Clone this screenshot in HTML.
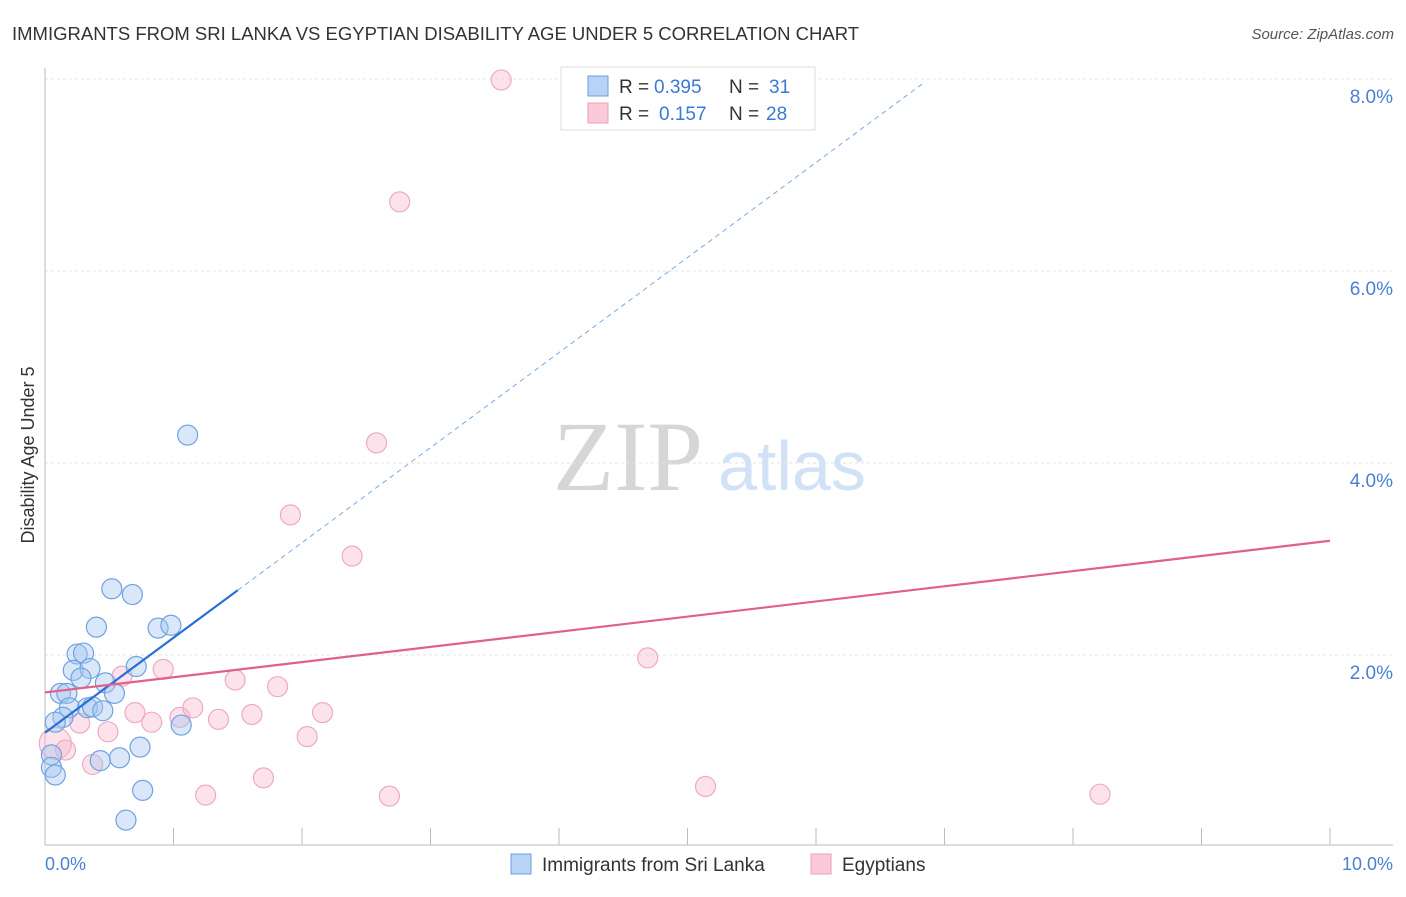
<!DOCTYPE html>
<html><head><meta charset="utf-8"><style>
body{margin:0;background:#fff;font-family:"Liberation Sans",sans-serif}
</style></head><body>
<svg width="1406" height="892" xmlns="http://www.w3.org/2000/svg" font-family="Liberation Sans, sans-serif">
<text x="12" y="40" font-size="18.5" fill="#333">IMMIGRANTS FROM SRI LANKA VS EGYPTIAN DISABILITY AGE UNDER 5 CORRELATION CHART</text>
<text x="1394" y="39" font-size="15" fill="#555" font-style="italic" text-anchor="end">Source: ZipAtlas.com</text>
<text x="553" y="490" font-size="100" fill="#d6d6d6" style="font-family:'Liberation Serif',serif">ZIP</text>
<text x="718" y="490" font-size="70" fill="#d2e2f6">atlas</text>
<g id="grid"></g>
<g id="axes"></g>
<g id="marks"></g>
<text transform="translate(34,455) rotate(-90)" font-size="18" fill="#333" text-anchor="middle">Disability Age Under 5</text>
<text x="45" y="870" font-size="18" fill="#4a7fd6">0.0%</text>
<text x="1393" y="870" font-size="18" fill="#4a7fd6" text-anchor="end">10.0%</text>
<g>
<rect x="561" y="67" width="254" height="63" fill="#fff" stroke="#ddd"/>
<rect x="588" y="76" width="20" height="20" fill="#b8d3f5" stroke="#6a9fe0"/>
<text x="619" y="93" font-size="19" fill="#333">R =</text>
<text x="654" y="93" font-size="19" fill="#3b78d8">0.395</text>
<text x="729" y="93" font-size="19" fill="#333">N =</text>
<text x="769" y="93" font-size="19" fill="#3b78d8">31</text>
<rect x="588" y="103" width="20" height="20" fill="#fbc9d8" stroke="#eba0b8"/>
<text x="619" y="120" font-size="19" fill="#333">R =</text>
<text x="659" y="120" font-size="19" fill="#3b78d8">0.157</text>
<text x="729" y="120" font-size="19" fill="#333">N =</text>
<text x="766" y="120" font-size="19" fill="#3b78d8">28</text>
</g>
<g>
<rect x="511" y="854" width="20" height="20" fill="#b8d3f5" stroke="#6a9fe0"/>
<text x="542" y="871" font-size="19" fill="#333">Immigrants from Sri Lanka</text>
<rect x="811" y="854" width="20" height="20" fill="#fbc9d8" stroke="#eba0b8"/>
<text x="842" y="871" font-size="19" fill="#333">Egyptians</text>
</g>
</svg>
<script>
const yTicks=[2,4,6,8];
const yTickLabels=["2.0%","4.0%","6.0%","8.0%"];
const xTicks=[0,1,2,3,4,5,6,7,8,9,10];
const blueX=[0.52,0.68,0.40,0.88,0.98,0.25,0.30,0.22,0.35,0.28,0.71,0.47,0.54,0.12,0.17,0.19,0.33,0.37,0.45,0.14,0.08,1.06,0.05,0.05,0.08,0.74,0.58,0.43,0.76,0.63,1.11];
const blueY=[2.69,2.63,2.29,2.28,2.31,2.01,2.02,1.84,1.86,1.76,1.88,1.71,1.60,1.60,1.60,1.45,1.45,1.46,1.42,1.35,1.30,1.27,0.96,0.83,0.75,1.04,0.93,0.90,0.59,0.28,4.29];
const pinkX=[0.08,0.16,0.27,0.49,0.37,0.60,0.92,0.70,0.83,1.05,1.15,1.35,1.48,1.61,1.81,2.16,2.04,1.70,1.25,3.55,2.76,2.58,1.91,2.39,4.69,5.14,2.68,8.21];
const pinkY=[1.08,1.01,1.29,1.20,0.86,1.78,1.85,1.40,1.30,1.35,1.45,1.33,1.74,1.38,1.67,1.40,1.15,0.72,0.54,7.99,6.72,4.21,3.46,3.03,1.97,0.63,0.53,0.55];
const blueLine=[1.19,0.99]; const blueSolidEnd=1.5; const blueDashEnd=6.85;
const pinkLine=[1.61,0.158];
const X=v=>45+v*128.5, Y=v=>847-v*96;
const NS="http://www.w3.org/2000/svg";
function mk(t,a,p){const e=document.createElementNS(NS,t);for(const k in a)e.setAttribute(k,a[k]);p.appendChild(e);return e;}
const grid=document.getElementById('grid'),axes=document.getElementById('axes'),marks=document.getElementById('marks');
yTicks.forEach((t,i)=>{
 const l=mk('line',{x1:45,x2:1393,y1:Y(t),y2:Y(t),stroke:'#e2e2e2','stroke-width':1,'stroke-dasharray':'3,3'},grid);
 
 
 const tx=mk('text',{x:1393,y:Y(t)+24,'font-size':19,fill:'#4a7fd6','text-anchor':'end'},grid);
 tx.textContent=yTickLabels[i];
 
 
});
const xa=mk('line',{x1:45,x2:1393,y1:845,y2:845,stroke:'#bbb'},axes);


const ya=mk('line',{x1:45,x2:45,y1:68,y2:845,stroke:'#bbb'},axes);


xTicks.forEach(t=>{
 const l=mk('line',{x1:X(t),x2:X(t),y1:828,y2:845,stroke:'#bbb'},axes);
 
 
});
pinkX.forEach((x,i)=>{
 const c=mk('circle',{cx:X(x),cy:Y(pinkY[i]),r:i===0?16:10,fill:'rgba(248,180,200,0.38)',stroke:'#eeaac0','stroke-width':1.2},marks);
 
 
});
blueX.forEach((x,i)=>{
 const c=mk('circle',{cx:X(x),cy:Y(blueY[i]),r:10,fill:'rgba(165,198,240,0.42)',stroke:'#6fa2e2','stroke-width':1.2},marks);
 
 
});
const bl=mk('line',{x1:X(0),y1:Y(blueLine[0]),x2:X(blueSolidEnd),y2:Y(blueLine[0]+blueLine[1]*blueSolidEnd),stroke:'#2a6fd6','stroke-width':2.2},marks);


const bd=mk('line',{x1:X(blueSolidEnd),y1:Y(blueLine[0]+blueLine[1]*blueSolidEnd),x2:X(blueDashEnd),y2:Y(blueLine[0]+blueLine[1]*blueDashEnd),stroke:'#7aa8e6','stroke-width':1,'stroke-dasharray':'5,4'},marks);


const pl=mk('line',{x1:X(0),y1:Y(pinkLine[0]),x2:X(10),y2:Y(pinkLine[0]+pinkLine[1]*10),stroke:'#e0608a','stroke-width':2.2},marks);


</script>
</body></html>
